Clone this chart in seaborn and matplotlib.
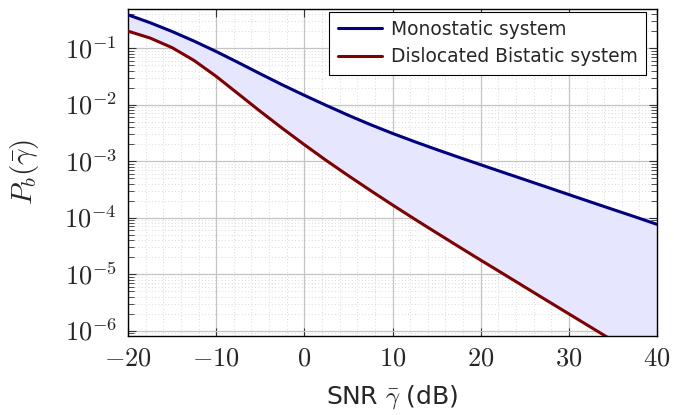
import numpy as np
import pandas as pd
import matplotlib
matplotlib.use("Agg")
import matplotlib.pyplot as plt
from matplotlib.ticker import FuncFormatter, LogLocator, MultipleLocator, NullFormatter
import seaborn as sns

# values (BER vs SNR, every 2.5 dB)
snr_db = [-20, -17.5, -15, -12.5, -10, -7.5, -5, -2.5, 0, 2.5, 5, 7.5, 10,
          12.5, 15, 17.5, 20, 22.5, 25, 27.5, 30, 32.5, 35, 37.5, 40]
pb_mono = [0.389, 0.282, 0.197, 0.133, 0.0871, 0.0556, 0.0351, 0.0224, 0.0146,
           9.66e-3, 6.46e-3, 4.42e-3, 3.09e-3, 2.21e-3, 1.60e-3, 1.17e-3, 8.61e-4,
           6.35e-4, 4.69e-4, 3.46e-4, 2.55e-4, 1.88e-4, 1.39e-4, 1.03e-4, 7.57e-5]
pb_bist = [0.200, 0.151, 0.102, 0.0603, 0.0316, 0.0155, 7.59e-3, 3.80e-3, 1.95e-3,
           1.02e-3, 5.50e-4, 3.01e-4, 1.67e-4, 9.40e-5, 5.35e-5, 3.06e-5, 1.76e-5,
           1.02e-5, 5.89e-6, 3.40e-6, 1.97e-6, 1.14e-6, 6.61e-7, 3.83e-7, 2.22e-7]
systems = ["Monostatic system", "Dislocated Bistatic system"]
colors = ["#000080", "#800000"]
x_ticks = [-20, -10, 0, 10, 20, 30, 40]

df = pd.DataFrame({
    "snr": snr_db * 2,
    "pb": pb_mono + pb_bist,
    "system": [systems[0]] * len(snr_db) + [systems[1]] * len(snr_db),
})

sns.set_theme(style="ticks")
plt.rcParams["font.family"] = ["DejaVu Sans"]
plt.rcParams["mathtext.fontset"] = "cm"

fig = plt.figure(figsize=(6.74, 4.15), dpi=100)
ax = fig.add_axes([0.19, 0.1904, 0.7849, 0.7887])

# shaded gap between the two curves
ax.fill_between(snr_db, pb_mono, pb_bist, color="#e6e6ff", lw=0, zorder=1)
sns.lineplot(data=df, x="snr", y="pb", hue="system", hue_order=systems,
             palette=colors, linewidth=2.2, errorbar=None, legend=False,
             ax=ax, zorder=3)

ax.set_yscale("log")
ax.set_xlim(-20, 40)
ax.set_ylim(8e-7, 0.5)
ax.set_xticks(x_ticks)
ax.xaxis.set_major_formatter(FuncFormatter(lambda v, p: r"$%d$" % v))
ax.xaxis.set_minor_locator(MultipleLocator(2))
ax.yaxis.set_major_locator(LogLocator(base=10, numticks=20))
ax.yaxis.set_minor_locator(LogLocator(base=10, subs=np.arange(2, 10), numticks=20))
ax.yaxis.set_minor_formatter(NullFormatter())
ax.yaxis.set_major_formatter(FuncFormatter(lambda v, p: r"$10^{%d}$" % round(np.log10(v))))

ax.set_axisbelow(True)
ax.grid(which="major", color="#c4c4c4", lw=0.9, ls="-")
ax.grid(which="minor", color="#cccccc", lw=0.6, ls=(0, (1, 3)))

ax.tick_params(which="both", direction="in", top=True, right=True, color="#333333")
ax.tick_params(which="major", length=5.5, width=0.8, labelsize=19)
ax.tick_params(axis="y", which="minor", length=4, width=0.6)
ax.tick_params(axis="x", which="minor", length=0)
ax.tick_params(axis="x", pad=7)
ax.tick_params(axis="y", pad=8)
for s in ax.spines.values():
    s.set_color("black")
    s.set_linewidth(1.0)

ax.set_xlabel(r"SNR $\bar{\gamma}$ (dB)", fontsize=18, labelpad=8)
ax.set_ylabel(r"$P_b(\bar{\gamma})$", fontsize=21, labelpad=17)

leg = ax.legend(ax.get_lines()[:2], systems, loc="upper right",
                bbox_to_anchor=(0.979, 0.991), borderaxespad=0,
                fontsize=13.4, handlelength=2.4, handletextpad=0.45,
                labelspacing=0.45, borderpad=0.45, fancybox=False,
                framealpha=1, edgecolor="black")
leg.get_frame().set_linewidth(0.8)

fig.savefig("out.png", dpi=100)
